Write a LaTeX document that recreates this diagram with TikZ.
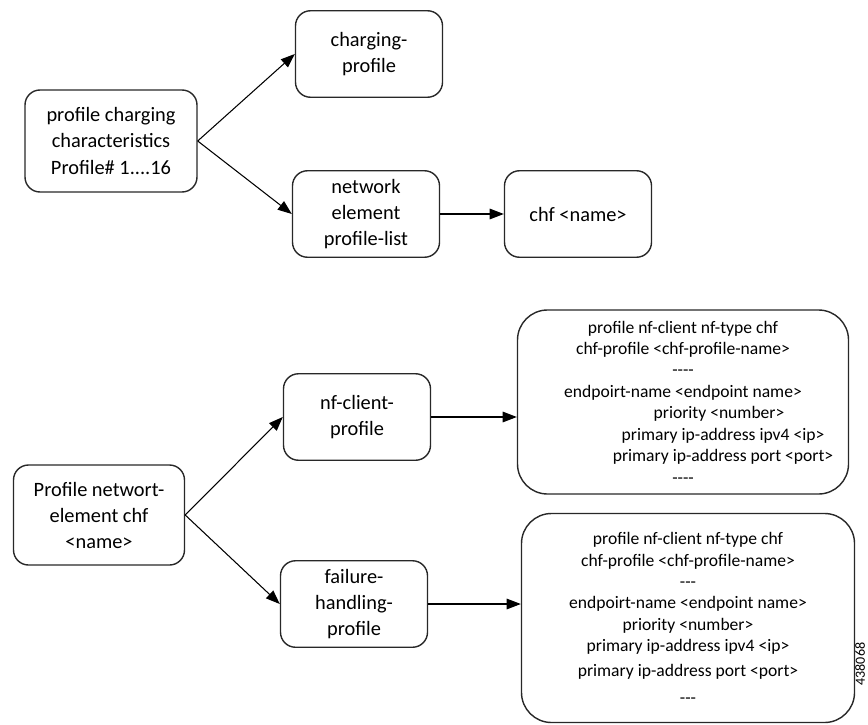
\documentclass[tikz,border=0pt]{standalone}
\usepackage{fontspec}
\setmainfont{Carlito}
\usepackage{tikz}
\usetikzlibrary{calc,arrows.meta}
\definecolor{edge}{RGB}{40, 40, 40}

\tikzset{
  smallbox/.style={draw=edge, line width=0.8pt, rounded corners=0.3cm, align=center,
    minimum width=2.94cm, minimum height=1.73cm, inner sep=2pt,
    font=\fontsize{11.6}{14.8}\selectfont},
  bigbox/.style={draw=edge, line width=0.8pt, rounded corners=0.6cm, align=center,
    inner sep=2pt, font=\fontsize{10}{12.2}\selectfont},
  link/.style={->, line width=0.6pt, draw=black}
}

\begin{document}
\begin{tikzpicture}[scale=1.0, >={Triangle[length=8pt, width=6pt]}]
  % Page frame
  \useasboundingbox (0, 0) rectangle (17.36, 14.48);

  % Upper group
  \node[smallbox, minimum width=3.44cm, minimum height=2.04cm] (pcc) at (2.22, 11.66)
    {profile charging\\characteristics\\Profile\# 1....16};
  \node[smallbox] (chgprof) at (7.38, 13.40) {charging-\\profile};
  \node[smallbox] (nelist) at (7.32, 10.20) {network\\element\\profile-list};
  \node[smallbox] (chfname) at (11.56, 10.20) {chf <name>};

  % Lower group
  \node[smallbox, minimum width=3.42cm, minimum height=2.00cm] (pnechf) at (1.98, 4.18)
    {Profile networt-\\element chf\\<name>};
  \node[smallbox] (nfclient) at (7.14, 6.14) {nf-client-\\profile};
  \node[smallbox] (failhdl) at (7.08, 2.40) {failure-\\handling-\\profile};

  % Detail boxes
  \node[bigbox, minimum width=6.62cm, minimum height=3.68cm] (nfdetail) at (13.66, 6.44)
    {profile nf-client nf-type chf\\
     chf-profile <chf-profile-name>\\
     -{}-{}-{}-\\
     endpoirt-name <endpoint name>\\
     \hspace*{1.44cm}priority <number>\\
     \hspace*{1.6cm}primary ip-address ipv4 <ip>\\
     \hspace*{1.6cm}primary ip-address port <port>\\
     -{}-{}-{}-};
  \node[bigbox, minimum width=6.66cm, minimum height=4.18cm] (fhdetail) at (13.76, 2.12)
    {profile nf-client nf-type chf\\
     chf-profile <chf-profile-name>\\
     -{}-{}-\\
     endpoirt-name <endpoint name>\\
     priority <number>\\
     primary ip-address ipv4 <ip>\\[2pt]
     primary ip-address port <port>\\[3pt]
     -{}-{}-};

  % Connectors
  \draw[link] (pcc.east) -- (chgprof.west);
  \draw[link] (pcc.east) -- (nelist.west);
  \draw[link] (nelist.east) -- (chfname.west);
  \draw[link] (pnechf.east) -- (nfclient.west);
  \draw[link] (pnechf.east) -- (failhdl.west);
  \draw[link] (nfclient.east) -- (nfclient.east -| nfdetail.west);
  \draw[link] (failhdl.east) -- (failhdl.east -| fhdetail.west);

  % Figure number
  \node[rotate=90, font=\fontsize{8}{9}\selectfont, inner sep=0pt] (fignum) at (17.2, 1.2) {438068};
\end{tikzpicture}
\end{document}
